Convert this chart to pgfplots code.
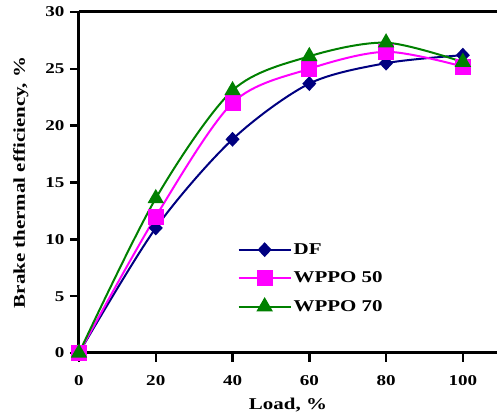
\documentclass[border=0pt]{standalone}
\usepackage{pgfplots}
\pgfplotsset{compat=1.18}
\usepackage{fontspec}
\setmainfont[FakeStretch=1.27]{Liberation Serif}
\definecolor{dfblue}{RGB}{0,0,128}
\definecolor{wmag}{RGB}{255,0,255}
\definecolor{wgreen}{RGB}{0,128,0}
\begin{document}
\begin{tikzpicture}
\begin{axis}[
  name=ax,
  scale only axis,
  width=418pt, height=341pt,
  xmin=0, xmax=108.9,
  ymin=0, ymax=30,
  axis x line=box, axis y line=left,
  axis line style={-, line width=3pt},
  xtick={0,20,40,60,80,100},
  ytick={0,5,10,15,20,25,30},
  xtick pos=bottom, ytick pos=left,
  tick align=outside,
  major tick length=9pt,
  tick style={line width=2.5pt, black},
  /pgf/number format/assume math mode=true,
  ticklabel style={font=\fontsize{15}{17}\selectfont\bfseries},
  xticklabel style={yshift=-10pt},
  yticklabel style={xshift=-2pt},
  xlabel={Load, \%},
  ylabel={Brake thermal efficiency, \%},
  label style={font=\fontsize{16.5}{18}\selectfont\bfseries},
  xlabel style={yshift=-6pt},
  ylabel style={yshift=10pt},
  legend style={at={(axis cs:40.5,10.0)}, anchor=north west, draw=none, fill=none,
    font=\fontsize{16.5}{18}\selectfont\bfseries, row sep=12pt,
    legend cell align=left},
  legend image code/.code={
    \draw[mark repeat=2,mark phase=2] plot coordinates {(0pt,0pt) (26pt,0pt) (52pt,0pt)};
  },
]
\addplot[dfblue, line width=2pt, smooth, mark=diamond*, mark size=6pt, mark options={solid, fill=dfblue, xscale=1.25}] coordinates {
(0,0) (20,11.0) (40,18.8) (60,23.7) (80,25.5) (100,26.2)};
\addlegendentry{DF}
\addplot[wmag, line width=2pt, smooth, mark=square*, mark size=7pt, mark options={solid, fill=wmag}] coordinates {
(0,0) (20,12.0) (40,22.0) (60,25.0) (80,26.5) (100,25.2)};
\addlegendentry{WPPO 50}
\addplot[wgreen, line width=2pt, smooth, mark=triangle*, mark size=7.5pt, mark options={solid, fill=wgreen}] coordinates {
(0,0) (20,13.6) (40,23.1) (60,26.1) (80,27.3) (100,25.6)};
\addlegendentry{WPPO 70}
\end{axis}
\pgfresetboundingbox
\path[use as bounding box] ([shift={(-79pt,-63pt)}]ax.south west) rectangle ([shift={(0pt,12pt)}]ax.north east);
\end{tikzpicture}
\end{document}
